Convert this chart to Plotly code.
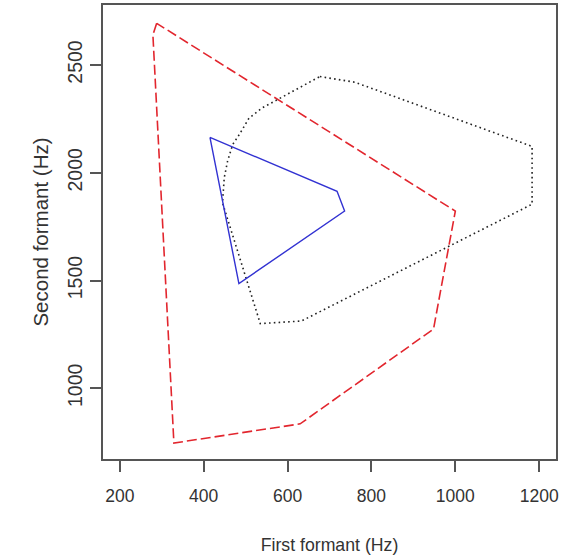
import plotly.graph_objects as go

# Vowel space polygons (F1, F2 in Hz)
red_f1 = [288, 279, 329, 630, 948, 1000, 288]
red_f2 = [2693, 2639, 746, 835, 1275, 1822, 2693]

blue_f1 = [415, 718, 736, 484, 415]
blue_f2 = [2164, 1914, 1822, 1486, 2164]

black_f1 = [677, 760, 1183, 1183, 633, 535, 445, 449, 457, 469, 485, 508, 539, 590, 625, 677]
black_f2 = [2446, 2420, 2122, 1854, 1312, 1300, 1860, 1976, 2053, 2130, 2177, 2253, 2300, 2353, 2392, 2446]

x_ticks = [200, 400, 600, 800, 1000, 1200]
y_ticks = [1000, 1500, 2000, 2500]

FONT = "Liberation Sans, Arial, Helvetica, sans-serif"
TXT = "#333333"
AX = "#555555"

fig = go.Figure()
fig.add_trace(go.Scatter(x=red_f1, y=red_f2, mode="lines",
                         line=dict(color="#e2262e", width=1.6, dash="10px,4px"),
                         hoverinfo="skip", showlegend=False))
fig.add_trace(go.Scatter(x=black_f1, y=black_f2, mode="lines",
                         line=dict(color="#222222", width=1.6, dash="1.6px,3.2px"),
                         hoverinfo="skip", showlegend=False))
fig.add_trace(go.Scatter(x=blue_f1, y=blue_f2, mode="lines",
                         line=dict(color="#3232d2", width=1.4),
                         hoverinfo="skip", showlegend=False))

fig.update_layout(
    width=562, height=556,
    margin=dict(l=103, r=3, t=4, b=97, pad=0),
    paper_bgcolor="white", plot_bgcolor="white",
    font=dict(family=FONT, color=TXT),
    showlegend=False,
    xaxis=dict(range=[160, 1240], tickmode="array", tickvals=x_ticks,
               ticktext=[str(v) for v in x_ticks],
               ticks="outside", ticklen=11, tickwidth=1.5, tickcolor=AX,
               showline=True, mirror=True, linecolor=AX, linewidth=1.6,
               showgrid=False, zeroline=False,
               tickfont=dict(size=17.5, family=FONT, color=TXT),
               ticklabelstandoff=9,
               title=dict(text="First formant (Hz)", font=dict(size=17.7, family=FONT, color=TXT),
                          standoff=34)),
    yaxis=dict(range=[672, 2778], tickmode="array", tickvals=y_ticks,
               ticktext=[str(v) for v in y_ticks],
               ticks="outside", ticklen=11, tickwidth=1.5, tickcolor=AX,
               showline=True, mirror=True, linecolor=AX, linewidth=1.6,
               showgrid=False, zeroline=False, tickangle=-90,
               tickfont=dict(size=19.5, family=FONT, color=TXT),
               ticklabelstandoff=0,
               title=dict(text="Second formant (Hz)", font=dict(size=20.5, family=FONT, color=TXT),
                          standoff=10)),
)

fig.write_html("out.html", config={"displayModeBar": False})
